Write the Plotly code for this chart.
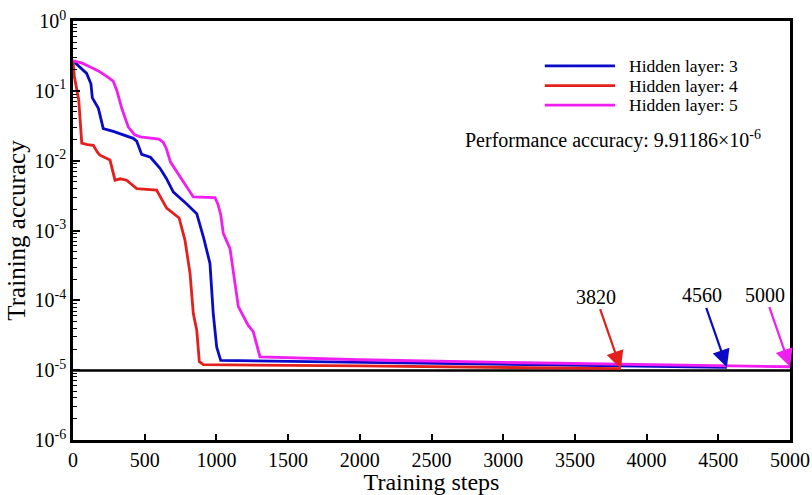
import math
import plotly.graph_objects as go

# ---- data ----
steps_l3 = [0, 50, 95, 125, 135, 177, 211, 281, 420, 444, 479, 540, 607, 650, 700, 793, 863, 909, 955, 978, 1002, 1030, 2000, 3000, 4000, 4560]
acc_l3 = [0.269, 0.219, 0.178, 0.126, 0.0794, 0.0562, 0.0288, 0.0263, 0.0209, 0.0191, 0.0123, 0.0112, 0.00776, 0.00562, 0.00355, 0.00240, 0.00174, 8.13e-4, 3.39e-4, 6.46e-5, 2.14e-5, 1.38e-5, 1.29e-5, 1.20e-5, 1.12e-5, 1.10e-5]

steps_l4 = [0, 10, 40, 61, 100, 142, 170, 188, 258, 293, 330, 374, 444, 583, 653, 740, 781, 816, 839, 863, 881, 909, 2000, 3000, 3820]
acc_l4 = [0.269, 0.158, 0.0741, 0.0178, 0.0170, 0.0166, 0.0132, 0.0120, 0.0102, 0.00525, 0.00550, 0.00525, 0.00398, 0.00380, 0.00209, 0.00151, 7.24e-4, 2.45e-4, 6.46e-5, 3.72e-5, 1.32e-5, 1.20e-5, 1.15e-5, 1.10e-5, 1.05e-5]

steps_l5 = [0, 60, 120, 180, 240, 280, 305, 340, 386, 430, 470, 600, 630, 650, 680, 720, 839, 990, 1010, 1030, 1048, 1095, 1118, 1153, 1222, 1257, 1304, 2000, 3000, 4000, 5000]
acc_l5 = [0.269, 0.251, 0.219, 0.191, 0.158, 0.138, 0.102, 0.0562, 0.0302, 0.0234, 0.0219, 0.0204, 0.0182, 0.0151, 0.00955, 0.00708, 0.00302, 0.00295, 0.00240, 0.00170, 9.12e-4, 5.50e-4, 2.45e-4, 8.13e-5, 4.37e-5, 3.55e-5, 1.55e-5, 1.41e-5, 1.29e-5, 1.20e-5, 1.12e-5]

series_names = ["Hidden layer: 3", "Hidden layer: 4", "Hidden layer: 5"]
series_colors = ["#0A0AC8", "#E3201B", "#F01EF0"]
performance_accuracy = 9.91186e-6

x_ticks = [0, 500, 1000, 1500, 2000, 2500, 3000, 3500, 4000, 4500, 5000]
y_tickvals = [1e-6, 1e-5, 1e-4, 1e-3, 1e-2, 1e-1, 1]
y_ticktext = ["10<sup>-6</sup>", "10<sup>-5</sup>", "10<sup>-4</sup>", "10<sup>-3</sup>",
              "10<sup>-2</sup>", "10<sup>-1</sup>", "10<sup>0</sup>"]
y_minor = [m * 10.0 ** e for e in range(-6, 0) for m in range(2, 10)]

FONT = "Times New Roman, Liberation Serif, serif"

fig = go.Figure()

# performance accuracy reference line
fig.add_trace(go.Scatter(x=[x_ticks[0], x_ticks[-1]], y=[performance_accuracy] * 2,
                         mode="lines", line=dict(color="black", width=2.5),
                         showlegend=False, hoverinfo="skip", cliponaxis=False))

data = [(steps_l3, acc_l3), (steps_l4, acc_l4), (steps_l5, acc_l5)]
for (xs, ys), name, col in zip(data, series_names, series_colors):
    fig.add_trace(go.Scatter(x=xs, y=ys, mode="lines", name=name,
                             line=dict(color=col, width=2.8), showlegend=False))

# custom legend (long line samples)
leg_y = [0.893, 0.846, 0.799]
for name, col, yy in zip(series_names, series_colors, leg_y):
    fig.add_shape(type="line", xref="paper", yref="paper",
                  x0=0.658, x1=0.756, y0=yy, y1=yy,
                  line=dict(color=col, width=2.8))
    fig.add_annotation(xref="paper", yref="paper", x=0.772, y=yy, text=name,
                       showarrow=False, xanchor="left", yanchor="middle",
                       font=dict(family=FONT, size=17.5, color="black"))

fig.add_annotation(xref="paper", yref="paper", x=0.544, y=0.716,
                   text="Performance accuracy: 9.91186×10<sup>-6</sup>",
                   showarrow=False, xanchor="left", yanchor="middle",
                   font=dict(family=FONT, size=20, color="black"))

# end-step arrows (log axis: annotation y in log10 units)
for (xs, ys), col in zip(data, series_colors):
    fig.add_annotation(x=xs[-1], y=math.log10(ys[-1]), xref="x", yref="y",
                       text=str(xs[-1]), showarrow=True,
                       arrowhead=2, arrowsize=1.6, arrowwidth=2.2, arrowcolor=col,
                       ax=-25, ay=-72, standoff=0,
                       font=dict(family=FONT, size=20, color="black"))

fig.update_layout(
    width=812, height=495,
    margin=dict(l=73, r=22, t=21, b=55),
    plot_bgcolor="white", paper_bgcolor="white",
    font=dict(family=FONT, size=20, color="black"),
    showlegend=False,
)

fig.update_xaxes(range=[0, 5000], tickvals=x_ticks, ticks="inside", ticklen=6,
                 tickwidth=1.5, tickcolor="black", automargin=False,
                 showline=True, linecolor="black", linewidth=2.5, mirror=True,
                 showgrid=False, zeroline=False,
                 tickfont=dict(family=FONT, size=20),
                 title=dict(text="Training steps", font=dict(family=FONT, size=24), standoff=17))

fig.update_yaxes(type="log", range=[-6, 0], tickmode="array",
                 tickvals=y_tickvals, ticktext=y_ticktext, automargin=False,
                 ticks="inside", ticklen=7, tickwidth=1.5, tickcolor="black",
                 minor=dict(tickmode="array", tickvals=y_minor, ticks="inside",
                            ticklen=4, tickwidth=1, tickcolor="black", showgrid=False),
                 showline=True, linecolor="black", linewidth=2.5, mirror=True,
                 showgrid=False, zeroline=False,
                 tickfont=dict(family=FONT, size=20),
                 title=dict(text="Training accuracy", font=dict(family=FONT, size=25), standoff=2))

fig.write_html("out.html")
